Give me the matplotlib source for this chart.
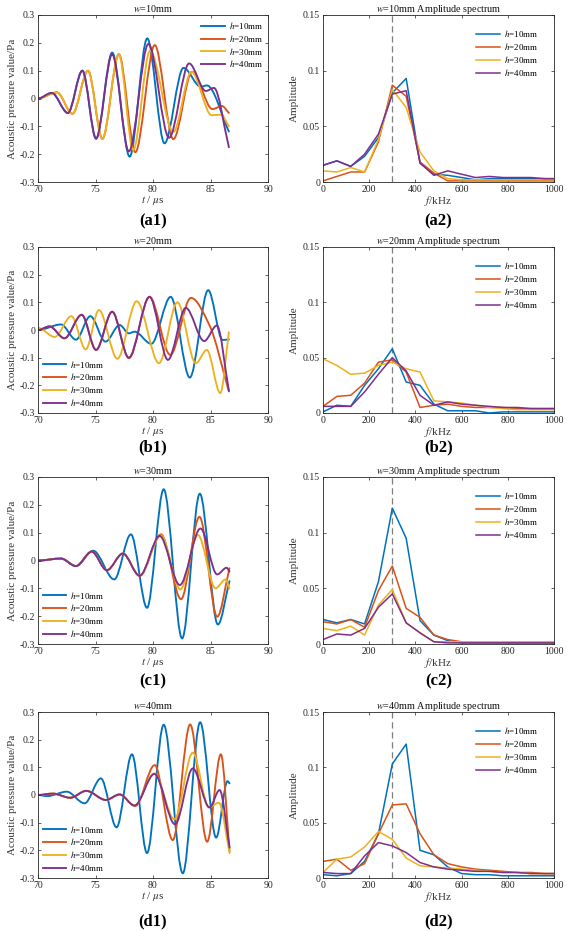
import numpy as np
import matplotlib
matplotlib.use('Agg')
import matplotlib.pyplot as plt
from matplotlib.path import Path
from matplotlib.patches import PathPatch
from matplotlib.lines import Line2D

plt.rcParams['font.family'] = ['Liberation Serif', 'DejaVu Serif']
plt.rcParams['mathtext.fontset'] = 'stix'

# ---------------- data ----------------
series_labels = ['$h$=10mm', '$h$=20mm', '$h$=30mm', '$h$=40mm']
series_colors = ['#0072BD', '#D95319', '#EDB120', '#7E2F8E']
widths = ['10', '20', '30', '40']
panel_tags = ['a', 'b', 'c', 'd']

sig_yticks = [-0.3, -0.2, -0.1, 0, 0.1, 0.2, 0.3]
sig_yticklabels = ['-0.3', '-0.2', '-0.1', '0', '0.1', '0.2', '0.3']
sig_xticks = [70, 75, 80, 85, 90]
spec_yticks = [0, 0.05, 0.1, 0.15]
spec_yticklabels = ['0', '0.05', '0.1', '0.15']
spec_xticks = [0, 200, 400, 600, 800, 1000]

# time-domain signals: key points (extrema), t in us
a1_t10 = [70, 71.2, 72.6, 73.86, 75.05, 76.45, 77.97, 79.5, 81.0, 82.65, 84.16, 84.68, 86.6]
a1_v10 = [0, 0.02, -0.052, 0.10, -0.145, 0.165, -0.209, 0.216, -0.161, 0.11, 0.042, 0.047, -0.119]
a1_t20 = [70, 71.65, 73.0, 74.35, 75.6, 77.03, 78.46, 80.15, 81.77, 83.4, 85.17, 85.99, 86.6]
a1_v20 = [0, 0.022, -0.055, 0.10, -0.145, 0.159, -0.193, 0.192, -0.146, 0.096, -0.038, -0.027, -0.052]
a1_t30 = [70, 71.65, 73.0, 74.35, 75.6, 77.03, 78.28, 79.74, 81.77, 83.34, 85.1, 85.9, 86.6]
a1_v30 = [0, 0.022, -0.055, 0.10, -0.145, 0.159, -0.185, 0.171, -0.12, 0.096, -0.06, -0.058, -0.1]
a1_t40 = [70, 71.2, 72.6, 73.86, 75.05, 76.45, 77.9, 79.6, 81.4, 83.14, 84.6, 85.3, 86.6]
a1_v40 = [0, 0.02, -0.052, 0.10, -0.143, 0.159, -0.19, 0.196, -0.141, 0.126, 0.027, 0.038, -0.175]

b1_t10 = [70, 72.0, 73.3, 74.55, 75.87, 77.1, 77.9, 78.4, 79.85, 81.54, 83.2, 84.8, 86.05, 86.6]
b1_v10 = [0, 0.02, -0.035, 0.05, -0.042, 0.018, -0.012, -0.006, -0.05, 0.12, -0.172, 0.144, -0.036, -0.034]
b1_t20 = [70, 71.0, 72.3, 73.8, 75.05, 76.45, 77.9, 79.7, 81.5, 83.3, 84.9, 86.6]
b1_v20 = [0, 0.013, -0.03, 0.055, -0.072, 0.066, -0.102, 0.12, -0.09, 0.116, 0.018, -0.222]
b1_t30 = [70, 71.45, 72.9, 74.15, 75.3, 76.9, 78.58, 80.52, 82.12, 83.72, 84.68, 85.85, 86.6]
b1_v30 = [0.008, -0.025, 0.05, -0.07, 0.072, -0.104, 0.104, -0.12, 0.1, -0.12, -0.072, -0.228, -0.008]
b1_t40 = [70, 71.0, 72.3, 73.8, 75.05, 76.45, 77.9, 79.7, 81.3, 82.85, 84.45, 85.55, 86.6]
b1_v40 = [0, 0.013, -0.03, 0.055, -0.072, 0.066, -0.1, 0.12, -0.108, 0.08, -0.04, 0.016, -0.22]

c1_t10 = [70, 72.0, 73.3, 74.8, 76.63, 78.08, 79.48, 80.93, 82.53, 84.07, 85.64, 86.65]
c1_v10 = [0, 0.007, -0.02, 0.035, -0.068, 0.094, -0.17, 0.256, -0.28, 0.24, -0.23, -0.074]
c1_t20 = [70, 72.0, 73.3, 74.67, 75.99, 77.38, 78.84, 80.7, 82.44, 84.04, 85.58, 86.65]
c1_v20 = [0, 0.007, -0.02, 0.032, -0.035, 0.025, -0.055, 0.094, -0.139, 0.157, -0.202, -0.028]
c1_t30 = [70, 72.0, 73.3, 74.67, 75.99, 77.38, 78.84, 80.7, 82.38, 83.9, 85.44, 86.31, 86.65]
c1_v30 = [0, 0.007, -0.02, 0.032, -0.035, 0.025, -0.055, 0.09, -0.104, 0.092, -0.1, -0.068, -0.1]
c1_t40 = [70, 72.0, 73.3, 74.67, 75.99, 77.38, 78.84, 80.58, 82.33, 84.13, 85.58, 86.4, 86.65]
c1_v40 = [0, 0.007, -0.02, 0.032, -0.035, 0.025, -0.055, 0.088, -0.088, 0.115, -0.05, -0.026, -0.04]

d1_t10 = [70, 70.8, 72.5, 74.05, 75.47, 76.83, 78.17, 79.48, 80.93, 82.59, 84.1, 85.49, 86.48, 86.66]
d1_v10 = [0, -0.004, 0.012, -0.03, 0.06, -0.117, 0.147, -0.21, 0.254, -0.283, 0.263, -0.154, 0.05, 0.042]
d1_t20 = [70, 71.3, 72.8, 74.2, 75.9, 77.1, 78.45, 80.15, 81.72, 83.23, 84.71, 85.9, 86.66]
d1_v20 = [0, 0.005, -0.01, 0.015, -0.018, 0.002, -0.04, 0.108, -0.163, 0.255, -0.169, 0.147, -0.205]
d1_t30 = [70, 71.3, 72.8, 74.2, 75.9, 77.1, 78.4, 80.12, 81.86, 83.46, 84.86, 85.73, 86.66]
d1_v30 = [0, 0.005, -0.01, 0.015, -0.018, 0.002, -0.038, 0.078, -0.088, 0.153, -0.045, -0.028, -0.21]
d1_t40 = [70, 71.3, 72.8, 74.2, 75.9, 77.1, 78.4, 80.12, 81.92, 83.46, 84.92, 85.79, 86.66]
d1_v40 = [0, 0.005, -0.01, 0.015, -0.018, 0.002, -0.038, 0.076, -0.106, 0.096, -0.045, 0.018, -0.19]

# amplitude spectra, sampled every 60 kHz
freq_khz = [0, 60, 120, 180, 240, 300, 360, 420, 480, 540, 600, 660, 720, 780, 840, 900, 960, 1020]

a2_10 = [0.015, 0.019, 0.014, 0.023, 0.040, 0.080, 0.093, 0.017, 0.007, 0.006, 0.004, 0.002, 0.003, 0.003, 0.003, 0.003, 0.003, 0.003]
a2_20 = [0.001, 0.005, 0.009, 0.009, 0.036, 0.087, 0.077, 0.018, 0.008, 0.001, 0.001, 0.001, 0.001, 0.001, 0.001, 0.001, 0.001, 0.001]
a2_30 = [0.010, 0.009, 0.013, 0.009, 0.038, 0.083, 0.067, 0.027, 0.010, 0.003, 0.002, 0.002, 0.002, 0.002, 0.002, 0.002, 0.002, 0.002]
a2_40 = [0.015, 0.019, 0.014, 0.025, 0.043, 0.079, 0.082, 0.017, 0.006, 0.010, 0.007, 0.004, 0.005, 0.004, 0.004, 0.004, 0.003, 0.003]

b2_10 = [0.001, 0.007, 0.006, 0.025, 0.040, 0.058, 0.028, 0.025, 0.008, 0.002, 0.002, 0.002, 0.000, 0.001, 0.001, 0.001, 0.001, 0.001]
b2_20 = [0.006, 0.015, 0.016, 0.027, 0.046, 0.048, 0.037, 0.005, 0.007, 0.008, 0.006, 0.005, 0.005, 0.005, 0.004, 0.004, 0.004, 0.004]
b2_30 = [0.049, 0.043, 0.035, 0.036, 0.043, 0.046, 0.040, 0.037, 0.011, 0.010, 0.009, 0.007, 0.005, 0.004, 0.003, 0.003, 0.003, 0.003]
b2_40 = [0.006, 0.006, 0.006, 0.019, 0.035, 0.050, 0.038, 0.016, 0.007, 0.010, 0.008, 0.007, 0.006, 0.005, 0.005, 0.004, 0.004, 0.004]

c2_10 = [0.022, 0.019, 0.022, 0.018, 0.056, 0.122, 0.095, 0.021, 0.008, 0.003, 0.001, 0.001, 0.001, 0.001, 0.001, 0.001, 0.001, 0.001]
c2_20 = [0.020, 0.018, 0.022, 0.015, 0.048, 0.070, 0.032, 0.024, 0.008, 0.004, 0.002, 0.002, 0.002, 0.002, 0.002, 0.002, 0.002, 0.002]
c2_30 = [0.014, 0.012, 0.016, 0.008, 0.035, 0.049, 0.019, 0.010, 0.002, 0.002, 0.002, 0.002, 0.002, 0.002, 0.002, 0.002, 0.002, 0.002]
c2_40 = [0.004, 0.009, 0.008, 0.014, 0.033, 0.045, 0.019, 0.010, 0.002, 0.001, 0.001, 0.001, 0.001, 0.001, 0.001, 0.001, 0.001, 0.001]

d2_10 = [0.003, 0.002, 0.004, 0.015, 0.040, 0.103, 0.121, 0.025, 0.021, 0.010, 0.004, 0.003, 0.003, 0.002, 0.002, 0.002, 0.002, 0.002]
d2_20 = [0.015, 0.017, 0.007, 0.013, 0.040, 0.066, 0.067, 0.040, 0.021, 0.013, 0.010, 0.008, 0.007, 0.006, 0.005, 0.005, 0.004, 0.004]
d2_30 = [0.005, 0.017, 0.019, 0.028, 0.042, 0.035, 0.018, 0.011, 0.010, 0.009, 0.008, 0.007, 0.006, 0.005, 0.005, 0.004, 0.004, 0.004]
d2_40 = [0.005, 0.004, 0.004, 0.020, 0.032, 0.029, 0.023, 0.014, 0.010, 0.008, 0.007, 0.006, 0.006, 0.005, 0.005, 0.004, 0.004, 0.004]

signals = [
    [(a1_t10, a1_v10), (a1_t20, a1_v20), (a1_t30, a1_v30), (a1_t40, a1_v40)],
    [(b1_t10, b1_v10), (b1_t20, b1_v20), (b1_t30, b1_v30), (b1_t40, b1_v40)],
    [(c1_t10, c1_v10), (c1_t20, c1_v20), (c1_t30, c1_v30), (c1_t40, c1_v40)],
    [(d1_t10, d1_v10), (d1_t20, d1_v20), (d1_t30, d1_v30), (d1_t40, d1_v40)],
]
spectra = [
    [a2_10, a2_20, a2_30, a2_40],
    [b2_10, b2_20, b2_30, b2_40],
    [c2_10, c2_20, c2_30, c2_40],
    [d2_10, d2_20, d2_30, d2_40],
]

# ---------------- drawing ----------------
W, H = 567, 931
fig = plt.figure(figsize=(W / 100, H / 100), dpi=100)
INK = '#262626'


def rect(x0, x1, ytop, ybot):
    return [x0 / W, 1 - ybot / H, (x1 - x0) / W, (ybot - ytop) / H]


def smooth_path(t, v):
    """Cubic Hermite (shape preserving) curve through the key points, as Bezier path."""
    x = np.asarray(t, float)
    y = np.asarray(v, float)
    h = np.diff(x)
    d = np.diff(y) / h
    m = np.zeros_like(y)
    for k in range(1, len(y) - 1):
        if d[k - 1] * d[k] <= 0:
            m[k] = 0.0
        else:
            w1 = 2 * h[k] + h[k - 1]
            w2 = h[k] + 2 * h[k - 1]
            m[k] = (w1 + w2) / (w1 / d[k - 1] + w2 / d[k])
    m[0] = 0.0
    m[-1] = d[-1]
    verts = [(x[0], y[0])]
    codes = [Path.MOVETO]
    for k in range(len(x) - 1):
        verts += [(x[k] + h[k] / 3, y[k] + m[k] * h[k] / 3),
                  (x[k + 1] - h[k] / 3, y[k + 1] - m[k + 1] * h[k] / 3),
                  (x[k + 1], y[k + 1])]
        codes += [Path.CURVE4] * 3
    return Path(verts, codes)


def style_axes(ax):
    for s in ax.spines.values():
        s.set_linewidth(0.6)
        s.set_color(INK)
    ax.tick_params(direction='in', length=2.5, width=0.5, top=True, right=True,
                   labelsize=7, colors=INK, pad=2)


rows_y = [(15, 182), (247, 413), (477, 644), (712, 878)]
tag_y = [221, 447, 681, 921]
left_x = (38, 268)
right_x = (323, 554)
leg_kw = dict(frameon=False, fontsize=6.5, handlelength=2.6, handletextpad=0.45,
              labelspacing=0.2, borderpad=0.2)

for r in range(4):
    ytop, ybot = rows_y[r]
    # ---- time domain ----
    ax = fig.add_axes(rect(left_x[0], left_x[1], ytop, ybot))
    style_axes(ax)
    for (t, v), col in zip(signals[r], series_colors):
        ax.add_patch(PathPatch(smooth_path(t, v), fill=False, edgecolor=col,
                               lw=1.35, capstyle='round', joinstyle='round'))
    ax.set_xlim(70, 90)
    ax.set_ylim(-0.3, 0.3)
    ax.set_xticks(sig_xticks)
    ax.set_yticks(sig_yticks)
    ax.set_yticklabels(sig_yticklabels)
    ax.set_title('$w$=' + widths[r] + 'mm', fontsize=7.3, pad=2.5, color='#111111')
    ax.set_xlabel('$t$ / $\\mu$s', fontsize=8, labelpad=0, color='#333333')
    ax.set_ylabel('Acoustic pressure value/Pa', fontsize=8, labelpad=2, color='#333333')
    handles = [Line2D([], [], color=c, lw=1.35) for c in series_colors]
    if r == 0:
        ax.legend(handles, series_labels, loc='upper right', borderaxespad=0.35, **leg_kw)
    else:
        ax.legend(handles, series_labels, loc='lower left', borderaxespad=0.35, **leg_kw)
    fig.text((left_x[0] + left_x[1]) / 2 / W, 1 - tag_y[r] / H,
             '(' + panel_tags[r] + '1)', ha='center', va='center',
             fontsize=12, fontweight='bold')

    # ---- spectrum ----
    ax2 = fig.add_axes(rect(right_x[0], right_x[1], ytop, ybot))
    style_axes(ax2)
    ax2.axvline(300, color='#7f7f7f', lw=0.9, ls=(0, (5, 3)), zorder=1)
    for vals, col, lab in zip(spectra[r], series_colors, series_labels):
        ax2.plot(freq_khz, vals, color=col, lw=1.1, label=lab, zorder=2)
    ax2.set_xlim(0, 1000)
    ax2.set_ylim(0, 0.15)
    ax2.set_xticks(spec_xticks)
    ax2.set_yticks(spec_yticks)
    ax2.set_yticklabels(spec_yticklabels)
    ax2.set_title('$w$=' + widths[r] + 'mm Amplitude spectrum', fontsize=7.3,
                  pad=2.5, color='#111111')
    ax2.set_xlabel('$f$/kHz', fontsize=8, labelpad=0, color='#333333')
    ax2.set_ylabel('Amplitude', fontsize=8, labelpad=3, color='#333333')
    ax2.legend(loc='upper right', bbox_to_anchor=(0.94, 0.93), borderaxespad=0.0, **leg_kw)
    fig.text((right_x[0] + right_x[1]) / 2 / W, 1 - tag_y[r] / H,
             '(' + panel_tags[r] + '2)', ha='center', va='center',
             fontsize=12, fontweight='bold')

fig.savefig('out.png', dpi=100, facecolor='white')
